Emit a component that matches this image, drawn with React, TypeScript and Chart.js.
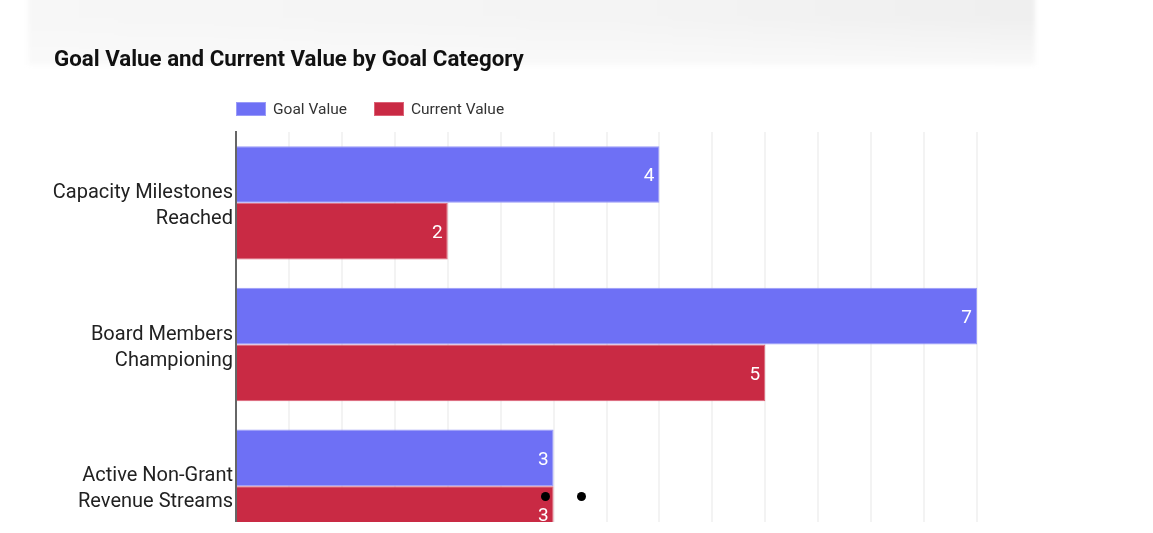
import React, { useEffect, useRef } from "react";
import { Chart, registerables } from "chart.js";

Chart.register(...registerables);

// Goal categories (split over two lines on the axis)
const categories: string[][] = [
  ["Capacity Milestones", "Reached"],
  ["Board Members", "Championing"],
  ["Active Non-Grant", "Revenue Streams"],
];
const seriesNames = ["Goal Value", "Current Value"];
const goalValues = [4, 7, 3];
const currentValues = [2, 5, 3];
const seriesColors = ["#6e70f5", "#c92a44"];
const seriesBorders = ["#9a9bf8", "#dc6276"];
const xMax = 7;
const xStep = 0.5;

const FONT = "Roboto, 'Noto Sans', sans-serif";
const CANVAS_H = 586;

// Writes each bar's value inside its end, in white
const valueLabels = {
  id: "valueLabels",
  afterDatasetsDraw(chart: any) {
    const ctx = chart.ctx;
    ctx.save();
    ctx.font = `19px ${FONT}`;
    ctx.fillStyle = "#ffffff";
    ctx.textAlign = "right";
    ctx.textBaseline = "middle";
    chart.data.datasets.forEach((ds: any, di: number) => {
      const meta = chart.getDatasetMeta(di);
      meta.data.forEach((bar: any, i: number) => {
        ctx.fillText(String(ds.data[i]), bar.x - 5, bar.y + 2);
      });
    });
    ctx.restore();
  },
};

function BarChart() {
  const ref = useRef<HTMLCanvasElement | null>(null);
  useEffect(() => {
    if (!ref.current) return;
    const chart = new Chart(ref.current, {
      type: "bar",
      data: {
        labels: categories,
        datasets: [
          {
            label: seriesNames[0],
            data: goalValues,
            backgroundColor: seriesColors[0],
            borderColor: seriesBorders[0],
            borderWidth: 1,
            categoryPercentage: 0.8,
            barPercentage: 1,
          },
          {
            label: seriesNames[1],
            data: currentValues,
            backgroundColor: seriesColors[1],
            borderColor: seriesBorders[1],
            borderWidth: 1,
            categoryPercentage: 0.8,
            barPercentage: 1,
          },
        ],
      },
      options: {
        indexAxis: "y",
        animation: false,
        responsive: false,
        maintainAspectRatio: false,
        layout: { padding: { top: 132, left: 0, right: 176, bottom: 0 } },
        plugins: {
          legend: { display: false },
          title: { display: false },
          tooltip: { enabled: false },
        },
        scales: {
          x: {
            min: 0,
            max: xMax,
            ticks: { display: false, stepSize: xStep },
            grid: { color: "#f3f3f3", lineWidth: 2, drawTicks: false },
            border: { display: false },
            afterFit: (scale: any) => {
              scale.height = 0;
            },
          },
          y: {
            ticks: {
              color: "#222222",
              font: { family: FONT, size: 20, lineHeight: 1.3 },
              padding: 3,
              labelOffset: 3,
            },
            grid: { display: false, drawTicks: false },
            border: { display: true, color: "#666666", width: 2 },
            afterFit: (scale: any) => {
              scale.width = 236;
            },
          },
        },
      },
      plugins: [valueLabels],
    });
    return () => chart.destroy();
  }, []);
  return (
    <canvas
      ref={ref}
      width={1153}
      height={CANVAS_H}
      style={{ position: "absolute", left: 0, top: 0, width: 1153, height: CANVAS_H }}
    />
  );
}

export default function App() {
  return (
    <div
      style={{
        position: "absolute",
        left: 0,
        top: 0,
        width: 1153,
        height: 533,
        overflow: "hidden",
        background: "#ffffff",
        fontFamily: FONT,
      }}
    >
      <div
        style={{
          position: "absolute",
          left: 28,
          top: -12,
          width: 1007,
          height: 77,
          background:
            "linear-gradient(to bottom, rgba(255,255,255,0) 40%, rgba(250,250,250,0.9) 100%), linear-gradient(to right, #f7f7f7, #f4f4f4 60%, #efefef)",
          filter: "blur(2px)",
        }}
      />
      <div style={{ position: "absolute", left: 0, top: 0, width: 1153, height: 522, overflow: "hidden" }}>
        <BarChart />
      </div>
      <div
        style={{
          position: "absolute",
          left: 54,
          top: 44,
          fontSize: 22.3,
          lineHeight: "28px",
          fontWeight: 700,
          color: "#111111",
          whiteSpace: "nowrap",
        }}
      >
        Goal Value and Current Value by Goal Category
      </div>
      <div
        style={{
          position: "absolute",
          left: 236,
          top: 99,
          height: 20,
          display: "flex",
          alignItems: "center",
          fontSize: 15.5,
          color: "#333333",
          whiteSpace: "nowrap",
        }}
      >
        {seriesNames.map((name, i) => (
          <div key={name} style={{ display: "flex", alignItems: "center", marginRight: 27 }}>
            <span
              style={{
                display: "inline-block",
                width: 30,
                height: 14,
                background: seriesColors[i],
                border: `1px solid ${seriesBorders[i]}`,
                boxSizing: "border-box",
                marginRight: 7,
              }}
            />
            <span>{name}</span>
          </div>
        ))}
      </div>
      <div style={{ position: "absolute", left: 541, top: 492, width: 9, height: 9, borderRadius: 5, background: "#000" }} />
      <div style={{ position: "absolute", left: 577, top: 492, width: 9, height: 9, borderRadius: 5, background: "#000" }} />
    </div>
  );
}
